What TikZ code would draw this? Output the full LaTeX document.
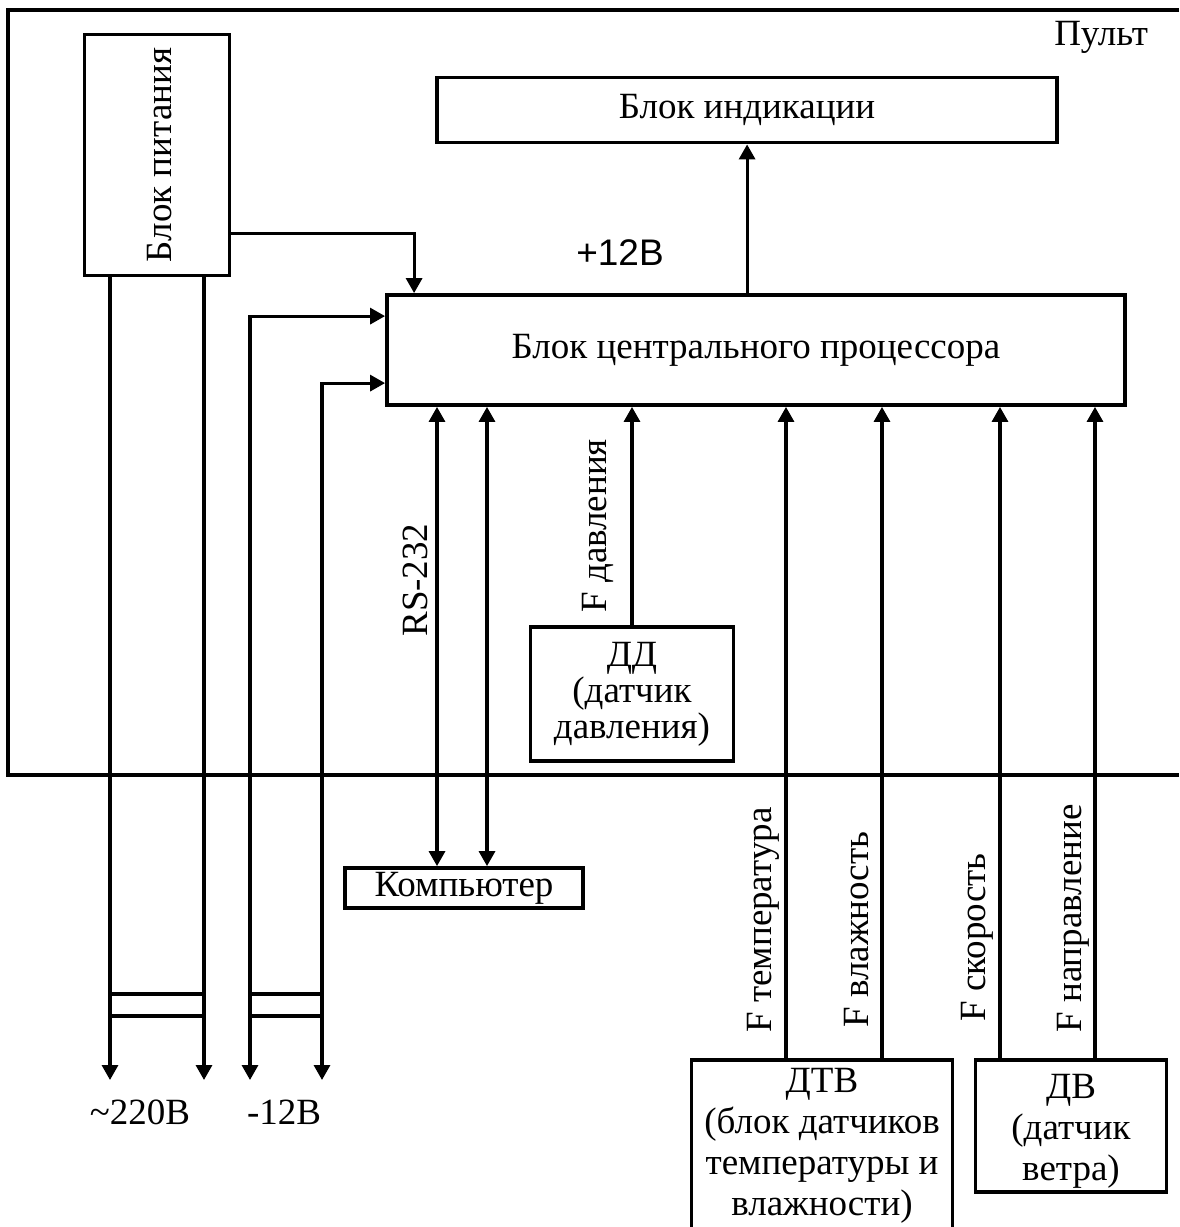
\documentclass[tikz,border=0pt]{standalone}
\usepackage{fontspec}
\setmainfont{Liberation Serif}
\newfontfamily\arialfont{Liberation Sans}
\usetikzlibrary{arrows.meta,calc,positioning}

\begin{document}
\begin{tikzpicture}[x=0.5pt, y=-0.5pt, font=\fontsize{18.5}{18}\selectfont,
					block/.style = {draw, line width=1.9pt, inner sep=0pt, align=center},
					wire/.style = {line width=1.6pt, -{Triangle[length=7.5pt,width=8pt]}},
					bus/.style = {line width=1.6pt, {Triangle[length=7.5pt,width=8pt]}-{Triangle[length=7.5pt,width=8pt]}},
					bar/.style = {line width=1.6pt},
					vlabel/.style = {rotate=90, anchor=west, inner sep=0pt},
					ltext/.style = {align=center, inner sep=0pt, font=\fontsize{18.5}{20.5}\selectfont}]
					
					\useasboundingbox (0,0) rectangle (1179,1227);
					
					\draw[line width=2pt] (1179,10) -- (8,10) -- (8,775) -- (1179,775);
					\node[anchor=east] (pult) at (1155,37) {Пульт};
					
					\node[block, minimum width=72.5pt, minimum height=120.5pt] (pit) at (157,155) {};
					\node[rotate=90] (pitlbl) at (160,155) {Блок питания};
					\node[block, minimum width=310pt, minimum height=32.5pt] (ind) at (747,110) {Блок индикации};
					\node[block, minimum width=369pt, minimum height=55pt] (cpu) at (756,350) {Блок центрального процессора};
					\node[block, minimum width=119pt, minimum height=20pt] (comp) at (464,888) {Компьютер};
					\node[block, minimum width=101.5pt, minimum height=67pt] (dd) at (632,694) {ДД\\(датчик\\давления)};
					\node[block, minimum width=130.5pt, minimum height=92pt] (dtv) at (822,1152) {};
					\node[ltext] (dtvtxt) at (822,1146) {ДТВ\\(блок датчиков\\температуры и\\влажности)};
					\node[block, minimum width=95.5pt, minimum height=66pt] (dv) at (1071,1126) {};
					\node[ltext] (dvtxt) at (1071,1131) {ДВ\\(датчик\\ветра)};
					
					\coordinate (b1) at (110,1080);
					\coordinate (b2) at (204,1080);
					\coordinate (b3) at (250,1080);
					\coordinate (b4) at (322,1080);
					\coordinate (rs1) at (437,0);
					\coordinate (rs2) at (487,0);
					\coordinate (s1) at (786,0);
					\coordinate (s2) at (882,0);
					\coordinate (s3) at (1000,0);
					\coordinate (s4) at (1095,0);
					
					\draw[wire] (pit.south -| b1) to (b1);
					\draw[wire] (pit.south -| b2) to (b2);
					\draw[bus] (b3) |- ($(cpu.north west)+(0,23)$);
					\draw[bus] (b4) |- ($(cpu.north west)+(0,90)$);
					\draw[bar] ($(b1)+(0,-86)$) to ($(b2)+(0,-86)$);
					\draw[bar] ($(b1)+(0,-64)$) to ($(b2)+(0,-64)$);
					\draw[bar] ($(b3)+(0,-86)$) to ($(b4)+(0,-86)$);
					\draw[bar] ($(b3)+(0,-64)$) to ($(b4)+(0,-64)$);
					\node (ac) at (140,1112) {\textasciitilde220В};
					\node (dc) at (284,1112) {-12В};
					
					\draw[wire] ($(pit.south east)+(0,-44)$) -| ($(cpu.north west)+(29,0)$);
					\draw[wire] ($(cpu.north west)+(362,0)$) coordinate (up) to (up |- ind.south);
					\node (v12) at (620,253) {\arialfont +12В};
					
					\draw[bus] (cpu.south -| rs1) to (comp.north -| rs1);
					\draw[bus] (cpu.south -| rs2) to (comp.north -| rs2);
					\node[vlabel] (rslbl) at (415,637) {RS-232};
					
					\draw[wire] (dd.north) to (dd.north |- cpu.south);
					\node[vlabel] (fdd) at (598,613) {F давления};
					
					\draw[wire] (dtv.north -| s1) to (cpu.south -| s1);
					\draw[wire] (dtv.north -| s2) to (cpu.south -| s2);
					\draw[wire] (dv.north -| s3) to (cpu.south -| s3);
					\draw[wire] (dv.north -| s4) to (cpu.south -| s4);
					\node[vlabel] (ft) at (763,1033) {F температура};
					\node[vlabel] (fh) at (857,1028) {F влажность};
					\node[vlabel] (fs) at (977,1022) {F скорость};
					\node[vlabel] (fn) at (1073,1033) {F направление};
				\end{tikzpicture}
\end{document}
